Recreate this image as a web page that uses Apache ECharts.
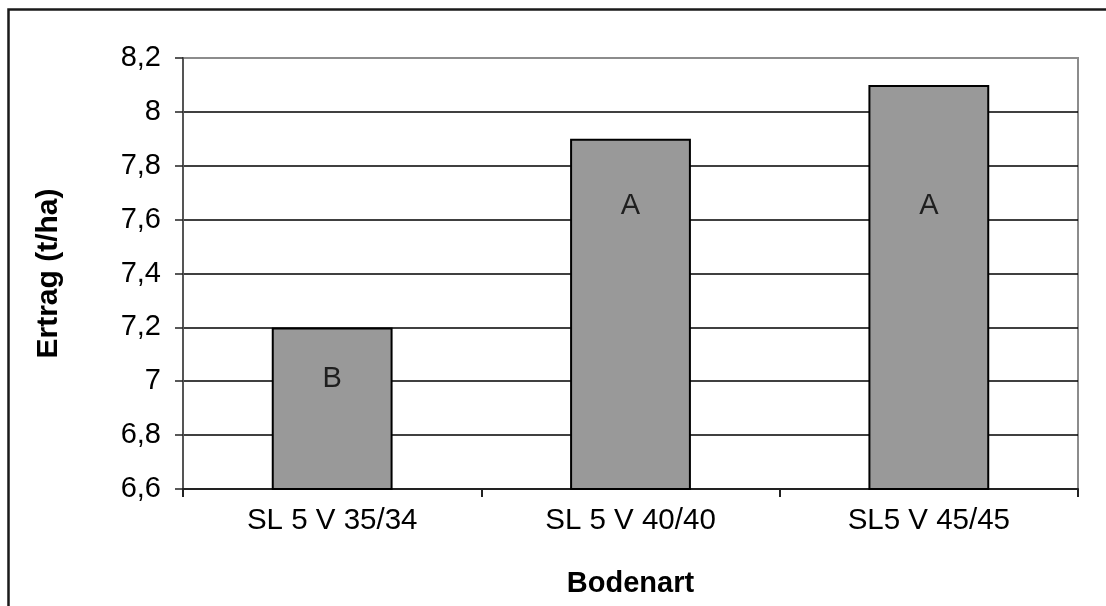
<!DOCTYPE html>
<html>
<head>
<meta charset="utf-8">
<script src="https://cdn.jsdelivr.net/npm/echarts@6/dist/echarts.min.js"></script>
<style>html,body{margin:0;padding:0;background:#fff;}#c{width:1106px;height:606px;}</style>
</head>
<body>
<div id="c"></div>
<script>
const categories = ['SL 5 V 35/34', 'SL 5 V 40/40', 'SL5 V 45/45'];
const yields = [7.2, 7.9, 8.1];
const letters = ['B', 'A', 'A'];
const letterPos = [7.01, 7.65, 7.65];
const yTitle = 'Ertrag (t/ha)';
const xTitle = 'Bodenart';

const chart = echarts.init(document.getElementById('c'), null, {renderer: 'canvas'});
const font = 'Liberation Sans, Arial, sans-serif';
chart.setOption({
  animation: false,
  backgroundColor: '#fff',
  graphic: [{
    type: 'rect', z: 100,
    shape: {x: 8.5, y: 9.5, width: 1200, height: 700},
    style: {fill: 'none', stroke: '#1a1a1a', lineWidth: 2.5}
  }],
  grid: {left: 183, right: 28, top: 58, bottom: 117, show: true, borderColor: '#8c8c8c', borderWidth: 2, backgroundColor: 'transparent'},
  xAxis: {
    type: 'category', data: categories,
    name: xTitle, nameLocation: 'middle', nameGap: 80,
    nameTextStyle: {fontFamily: font, fontSize: 29, fontWeight: 'bold', color: '#000'},
    axisLine: {lineStyle: {color: '#222', width: 2}},
    axisTick: {show: true, length: 8, lineStyle: {color: '#222', width: 2}},
    axisLabel: {fontFamily: font, fontSize: 29.5, color: '#000', margin: 17}
  },
  yAxis: {
    type: 'value', min: 6.6, max: 8.2, interval: 0.2,
    name: yTitle, nameLocation: 'middle', nameGap: 119, nameRotate: 90,
    nameTextStyle: {fontFamily: font, fontSize: 30, fontWeight: 'bold', color: '#000'},
    axisLine: {show: true, lineStyle: {color: '#555', width: 2}},
    axisTick: {show: true, length: 8, lineStyle: {color: '#222', width: 1.5}},
    axisLabel: {fontFamily: font, fontSize: 29, color: '#000', margin: 22,
      formatter: v => String(Number(v.toFixed(1))).replace('.', ',')},
    splitLine: {show: true, lineStyle: {color: ['#000','#000','#000','#000','#000','#000','#000','#000','#8c8c8c'], width: 1.5}}
  },
  series: [{
    type: 'bar', data: yields, barWidth: '40.5%',
    itemStyle: {color: '#999999', borderColor: '#000', borderWidth: 2},
    z: 2
  }, {
    type: 'scatter', data: letterPos, symbolSize: 0, z: 5,
    label: {show: true, position: 'inside', fontFamily: font, fontSize: 29, color: '#000',
      formatter: p => letters[p.dataIndex]}
  }]
});
</script>
</body>
</html>
